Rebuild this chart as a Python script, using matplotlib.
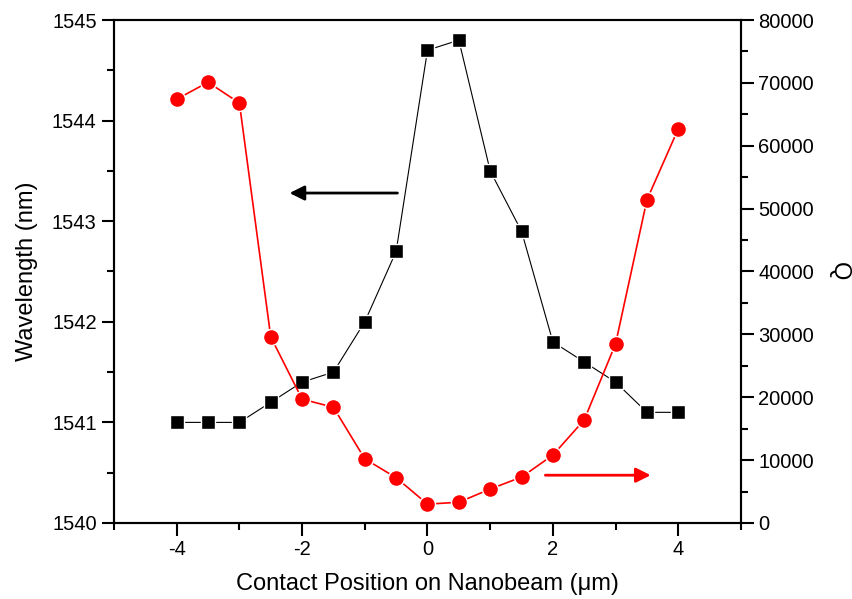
import numpy as np
import matplotlib.pyplot as plt
from matplotlib.ticker import MultipleLocator

plt.rcParams['font.family'] = ['Liberation Sans', 'DejaVu Sans']
plt.rcParams['axes.unicode_minus'] = False

# contact position (um)
position = [-4, -3.5, -3, -2.5, -2, -1.5, -1, -0.5, 0, 0.5, 1, 1.5, 2, 2.5, 3, 3.5, 4]
# resonance wavelength (nm)
wavelength = [1541.0, 1541.0, 1541.0, 1541.2, 1541.4, 1541.5, 1542.0, 1542.7, 1544.7,
              1544.8, 1543.5, 1542.9, 1541.8, 1541.6, 1541.4, 1541.1, 1541.1]
# quality factor
q_factor = [67400, 70100, 66800, 29600, 19700, 18400, 10200, 7200, 3000,
            3300, 5400, 7300, 10800, 16400, 28500, 51400, 62700]

fig = plt.figure(figsize=(8.52, 5.99), dpi=100)
ax = fig.add_axes([0.1338, 0.1269, 0.7359, 0.8397])
ax2 = ax.twinx()

ax.plot(position, wavelength, color='black', lw=0.8, marker='s', ms=10,
        mfc='black', mec='white', mew=1, zorder=3)
ax2.plot(position, q_factor, color='red', lw=1.2, marker='o', ms=11.5,
         mfc='red', mec='white', mew=1, zorder=3)

# arrows pointing to the axis each curve belongs to
ax.annotate('', xy=(-2.2, 1543.28), xytext=(-0.48, 1543.28),
            arrowprops=dict(arrowstyle='-|>', color='black', lw=2,
                            mutation_scale=22, shrinkA=0, shrinkB=0))
ax2.annotate('', xy=(3.56, 7600), xytext=(1.88, 7600),
             arrowprops=dict(arrowstyle='-|>', color='red', lw=2,
                             mutation_scale=22, shrinkA=0, shrinkB=0))

ax.set_xlim(-5, 5)
ax.set_ylim(1540, 1545)
ax2.set_ylim(0, 80000)

ax.xaxis.set_major_locator(MultipleLocator(2))
ax.xaxis.set_minor_locator(MultipleLocator(1))
ax.yaxis.set_major_locator(MultipleLocator(1))
ax.yaxis.set_minor_locator(MultipleLocator(0.5))
ax2.yaxis.set_major_locator(MultipleLocator(10000))
ax2.yaxis.set_minor_locator(MultipleLocator(5000))

for a in (ax, ax2):
    for s in a.spines.values():
        s.set_linewidth(1.5)
    a.tick_params(which='major', direction='out', length=9, width=1.5, labelsize=14.5)
    a.tick_params(which='minor', direction='out', length=5, width=1.5)
ax.tick_params(top=False, which='both')
ax.tick_params(axis='y', which='both', right=False)

ax.set_xlabel('Contact Position on Nanobeam (\u03bcm)', fontsize=17, labelpad=10)
ax.set_ylabel('Wavelength (nm)', fontsize=17, labelpad=10)
ax2.set_ylabel('Q', fontsize=17, rotation=270, va='bottom', labelpad=10)

fig.savefig('out.png', dpi=100)
